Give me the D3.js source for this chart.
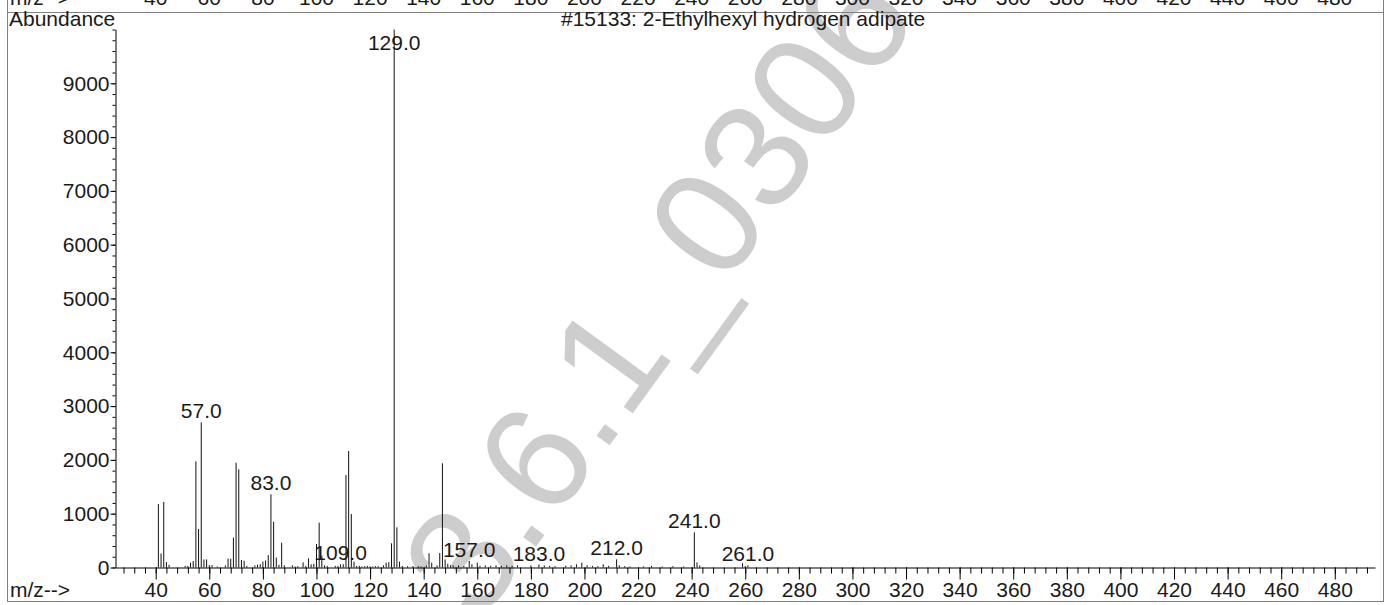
<!DOCTYPE html>
<html>
<head>
<meta charset="utf-8">
<script src="https://cdn.jsdelivr.net/npm/d3@7"></script>
<style>
  html, body { margin: 0; padding: 0; background: #fff; }
  svg { display: block; font-family: "Liberation Sans", Arial, Helvetica, sans-serif; }
</style>
</head>
<body>
<svg id="chart" width="1391" height="605"></svg>
<script>
// Mass spectrum: m/z values and their abundances
const massToCharge = [
  41, 42, 43, 44, 45, 51, 52, 53, 54, 55, 56, 57, 58, 59, 60, 61, 63,
  66, 67, 68, 69, 70, 71, 72, 73, 74, 77, 78, 79, 80, 81, 82, 83, 84, 85, 86, 87, 88,
  91, 92, 93, 95, 96, 97, 98, 99, 100, 101, 102, 103, 104, 107, 108, 109, 110,
  111, 112, 113, 114, 115, 116, 117, 118, 119, 120, 121, 122, 123, 125, 126, 127, 128,
  129, 130, 131, 132, 134, 136, 138, 139, 141, 142, 143, 145, 146, 147, 148, 149, 150,
  151, 153, 155, 157, 158, 160, 161, 163, 165, 167, 169, 171, 173, 175, 180, 183, 185,
  187, 189, 193, 195, 197, 199, 201, 203, 205, 207, 209, 212, 213, 215, 217, 222, 225,
  229, 233, 237, 241, 242, 243, 259, 260, 261
];
const abundance = [
  1180, 260, 1220, 100, 50, 30, 30, 90, 120, 1974, 716, 2698, 150, 150, 45, 45, 20,
  40, 165, 165, 555, 1948, 1825, 140, 125, 30, 40, 50, 60, 110, 130, 230, 1360, 850, 185, 50, 460, 40,
  40, 20, 25, 95, 30, 170, 60, 70, 437, 833, 220, 40, 30, 30, 30, 60, 60,
  1719, 2165, 994, 108, 30, 30, 20, 25, 30, 20, 20, 25, 25, 40, 90, 100, 450,
  9999, 747, 110, 30, 25, 30, 25, 20, 40, 265, 90, 40, 270, 1937, 150, 70, 40,
  40, 40, 30, 121, 60, 90, 30, 40, 30, 40, 30, 40, 30, 40, 40, 55, 40,
  30, 25, 35, 40, 60, 90, 40, 30, 25, 60, 30, 152, 40, 25, 20, 20, 30,
  20, 25, 20, 654, 96, 40, 80, 30, 40
];
const labeledPeaks = [57, 83, 109, 129, 157, 183, 212, 241, 261];
const xTickLabels = d3.range(40, 481, 20);
const xMinorTicks = d3.range(28, 495, 4);
const yTickLabels = d3.range(0, 9001, 1000);
const yMinorTicks = d3.range(0, 10001, 200);
const compoundTitle = "#15133: 2-Ethylhexyl hydrogen adipate";
const yAxisTitle = "Abundance";
const xAxisTitle = "m/z-->";
const stampText = "3.6.1_0306";

const svg = d3.select("#chart");
const ink = "#1a1a1a";
const labelSize = 21;

const x = d3.scaleLinear().domain([25, 495]).range([115.5, 1375]);
const y = d3.scaleLinear().domain([0, 10000]).range([567.5, 29.5]);

// Light stamp behind the plot
svg.append("text")
  .attr("transform", "translate(479,625) rotate(-54)")
  .attr("font-size", 150)
  .attr("fill", "#cdcdcd")
  .text(stampText);

// Panel frames (this panel and the bottom edge of the one above)
svg.append("rect")
  .attr("x", 7.5).attr("y", -600).attr("width", 1376).attr("height", 612.5)
  .attr("fill", "none").attr("stroke", "#808080");
svg.append("rect")
  .attr("x", 7.5).attr("y", 12.5).attr("width", 1376).attr("height", 589)
  .attr("fill", "none").attr("stroke", "#808080");

// Axis labels of the panel above, cut by the page edge
const upper = svg.append("g").attr("font-size", labelSize).attr("fill", ink);
upper.append("text").attr("x", 10).attr("y", 5).text(xAxisTitle);
upper.selectAll("text.tick")
  .data(xTickLabels).join("text")
  .attr("class", "tick")
  .attr("x", d => x(d)).attr("y", 5)
  .attr("text-anchor", "middle")
  .text(d => d);

// Titles
svg.append("text").attr("x", 9).attr("y", 26)
  .attr("font-size", labelSize).attr("fill", ink).text(yAxisTitle);
svg.append("text").attr("x", 561).attr("y", 26)
  .attr("font-size", labelSize).attr("fill", ink).text(compoundTitle);
svg.append("text").attr("x", 10).attr("y", 597)
  .attr("font-size", labelSize).attr("fill", ink).text(xAxisTitle);

// Spectrum sticks
const peaks = massToCharge.map((m, i) => ({ m, v: abundance[i] }));
svg.append("g")
  .selectAll("line")
  .data(peaks).join("line")
  .attr("x1", d => x(d.m)).attr("x2", d => x(d.m))
  .attr("y1", y(0)).attr("y2", d => y(d.v))
  .attr("stroke", "#111").attr("stroke-width", 1);

// X axis: minor ticks, then major ticks with labels
svg.append("g").attr("transform", `translate(0,${y(0)})`)
  .call(d3.axisBottom(x).tickValues(xMinorTicks).tickSize(6).tickSizeOuter(0).tickFormat(""));
svg.append("g").attr("transform", `translate(0,${y(0)})`)
  .call(d3.axisBottom(x).tickValues(xTickLabels).tickSize(12).tickSizeOuter(0).tickPadding(3))
  .call(g => g.select(".domain").remove())
  .call(g => g.selectAll("text").attr("font-size", labelSize).attr("fill", ink).attr("font-family", null));

// Y axis: minor ticks, then major ticks with labels
svg.append("g").attr("transform", `translate(${x.range()[0]},0)`)
  .call(d3.axisLeft(y).tickValues(yMinorTicks).tickSize(3).tickSizeOuter(0).tickFormat(""));
svg.append("g").attr("transform", `translate(${x.range()[0]},0)`)
  .call(d3.axisLeft(y).tickValues(yTickLabels).tickSize(5).tickSizeOuter(0).tickPadding(1)
    .tickFormat(d3.format("d")))
  .call(g => g.select(".domain").remove())
  .call(g => g.selectAll("text").attr("font-size", labelSize).attr("fill", ink).attr("font-family", null));

svg.selectAll(".tick line, .domain").attr("stroke", "#000");

// Peak labels, kept inside the plot area
const labelTopLimit = 50;
svg.append("g")
  .selectAll("text")
  .data(peaks.filter(p => labeledPeaks.includes(p.m))).join("text")
  .attr("x", d => x(d.m))
  .attr("y", d => Math.max(y(d.v) - 4, labelTopLimit))
  .attr("text-anchor", "middle")
  .attr("font-size", labelSize)
  .attr("fill", ink)
  .text(d => d.m.toFixed(1));
</script>
</body>
</html>
